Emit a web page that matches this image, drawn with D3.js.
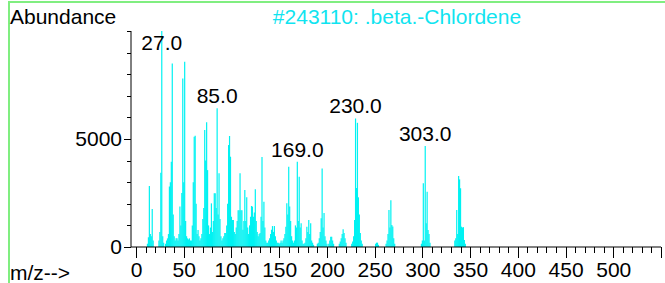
<!DOCTYPE html>
<html>
<head>
<meta charset="utf-8">
<script src="https://cdn.jsdelivr.net/npm/d3@7"></script>
<style>
  html, body { margin: 0; padding: 0; background: #fff; }
  svg { display: block; font-family: "Liberation Sans", Arial, sans-serif; }
  .axis path, .axis line { stroke: #000; shape-rendering: crispEdges; }
  .axis text { font-size: 21px; fill: #000; }
</style>
</head>
<body>
<svg id="chart" width="665" height="283"></svg>
<script>
// m/z values and abundances
const mz = [
  12, 13, 14, 15, 16, 17, 18, 24, 25, 26, 27, 28, 29, 31, 32, 33, 34, 35, 36, 37,
  38, 39, 40, 41, 42, 43, 44, 45, 46, 47, 48, 49, 50, 51, 52, 53, 54, 55, 56, 57,
  58, 59, 60, 61, 62, 63, 64, 65, 66, 67, 68, 69, 70, 71, 72, 73, 74, 75, 76, 77,
  78, 79, 80, 81, 82, 83, 84, 85, 86, 87, 88, 89, 90, 91, 92, 93, 94, 95, 96, 97,
  98, 99, 100, 101, 102, 103, 104, 105, 106, 107, 108, 109, 110, 111, 112, 113, 114, 115, 116, 117,
  118, 119, 120, 121, 122, 123, 124, 125, 126, 127, 128, 129, 130, 131, 132, 133, 134, 135, 136, 137,
  138, 139, 140, 141, 142, 143, 144, 145, 146, 147, 148, 149, 150, 151, 152, 153, 154, 155, 156, 157,
  158, 159, 160, 161, 162, 163, 164, 165, 166, 167, 168, 169, 170, 171, 172, 173, 174, 175, 176, 177,
  178, 179, 180, 181, 182, 183, 184, 185, 186, 190, 191, 192, 193, 194, 195, 196, 197, 198, 199, 200,
  202, 203, 204, 205, 206, 207, 213, 214, 215, 216, 217, 218, 219, 220, 226, 227, 228, 229, 230, 231,
  232, 233, 234, 235, 236, 237, 251, 252, 253, 254, 262, 263, 264, 265, 266, 267, 268, 269, 270, 271,
  299, 300, 301, 302, 303, 304, 305, 306, 307, 308, 334, 335, 336, 337, 338, 339, 340, 341, 342, 343,
  344, 345
];
const abundance = [
  150, 450, 2820, 600, 500, 1760, 300, 300, 700, 3440, 10000, 500, 200, 150, 300, 400, 600, 2800, 3000, 3950,
  8500, 1500, 500, 300, 400, 400, 300, 600, 1870, 1000, 2500, 7800, 3000, 8580, 1200, 500, 400, 350, 400, 300,
  300, 1000, 3000, 5100, 5150, 2000, 600, 790, 500, 300, 400, 600, 1300, 1800, 5420, 4000, 5770, 3560, 1000, 600,
  900, 2020, 700, 1200, 2490, 2490, 1800, 6420, 1500, 3410, 1300, 500, 300, 400, 500, 650, 650, 1000, 2000, 4720,
  5140, 4180, 1400, 1250, 1250, 700, 600, 900, 1200, 1700, 1700, 3410, 1700, 1700, 800, 1200, 2640, 1200, 2300, 900,
  600, 1000, 1400, 1900, 1870, 1400, 1600, 2670, 1200, 700, 500, 600, 650, 1400, 4170, 1200, 2100, 900, 300, 200,
  200, 300, 400, 600, 800, 970, 700, 970, 500, 300, 200, 200, 150, 200, 300, 200, 300, 400, 600, 940,
  2030, 1500, 3720, 1870, 1200, 500, 300, 200, 300, 1000, 900, 3950, 1200, 3250, 900, 1100, 300, 150, 150, 200,
  400, 940, 700, 1250, 600, 1100, 300, 200, 100, 150, 200, 400, 700, 1330, 3640, 900, 1570, 500, 300, 150,
  150, 300, 480, 480, 300, 150, 150, 250, 400, 600, 820, 650, 400, 200, 150, 250, 500, 1250, 5950, 2730,
  5750, 2300, 1500, 650, 300, 150, 150, 200, 200, 100, 150, 300, 600, 1710, 900, 2170, 1020, 950, 400, 150,
  150, 300, 2950, 300, 4680, 1100, 2560, 790, 600, 200, 300, 400, 1710, 600, 3290, 3130, 2720, 940, 900, 920,
  320, 150
];

const labelMz = [27, 85, 169, 230, 303];
const xMajorTicks = [0, 50, 100, 150, 200, 250, 300, 350, 400, 450, 500, 550];
const xMinorTicks = d3.range(0, 551, 10);
const yMajorTicks = [0, 5000];
const yMinorTicks = [0, 1000, 2000, 3000, 4000, 5000, 6000, 7000, 8000, 9000, 10000];

const svg = d3.select("#chart");

// рамка
svg.append("rect")
  .attr("x", 9).attr("y", 2)
  .attr("width", 700).attr("height", 320)
  .attr("fill", "none")
  .attr("stroke", "#80ee80")
  .attr("stroke-width", 2);

const x = d3.scaleLinear().domain([0, 550]).range([136, 661]);
const y = d3.scaleLinear().domain([0, 10000]).range([247, 31]);

const data = mz.map((m, i) => ({ mz: m, v: abundance[i] }));

// spectrum lines
svg.append("g")
  .selectAll("line")
  .data(data)
  .join("line")
  .attr("x1", d => x(d.mz))
  .attr("x2", d => x(d.mz))
  .attr("y1", y(0))
  .attr("y2", d => y(d.v))
  .attr("stroke", "#00f2f2")
  .attr("stroke-width", 1.2);

// axes
svg.append("g")
  .attr("class", "axis")
  .attr("transform", `translate(0,${y(0)})`)
  .call(d3.axisBottom(x).tickValues(xMinorTicks).tickSize(6).tickFormat(""))
  .call(g => g.select(".domain").remove());

svg.append("g")
  .attr("class", "axis")
  .attr("transform", `translate(0,${y(0)})`)
  .call(d3.axisBottom(x).tickValues(xMajorTicks).tickSize(11).tickPadding(4)
    .tickFormat(d => d === 550 ? "" : d))
  .call(g => g.select(".domain").remove());

svg.append("line")
  .attr("x1", 131).attr("x2", x(550))
  .attr("y1", y(0)).attr("y2", y(0))
  .attr("stroke", "#000");

const yAxisX = 131;
svg.append("g")
  .attr("class", "axis")
  .attr("transform", `translate(${yAxisX},0)`)
  .call(d3.axisLeft(y).tickValues(yMinorTicks).tickSize(4).tickFormat(""))
  .call(g => g.select(".domain").remove());

svg.append("g")
  .attr("class", "axis")
  .attr("transform", `translate(${yAxisX},0)`)
  .call(d3.axisLeft(y).tickValues(yMajorTicks).tickSize(7).tickPadding(2)
    .tickFormat(d3.format("d")))
  .call(g => g.select(".domain").remove());

svg.append("line")
  .attr("x1", yAxisX).attr("x2", yAxisX)
  .attr("y1", y(10000)).attr("y2", y(0))
  .attr("stroke", "#000");

// peak labels
svg.append("g")
  .selectAll("text")
  .data(labelMz)
  .join("text")
  .attr("x", m => x(m))
  .attr("y", m => {
    const d = data.find(p => p.mz === m);
    return Math.max(y(d.v) - 5, 50);
  })
  .attr("text-anchor", "middle")
  .attr("font-size", 21)
  .text(m => m.toFixed(1));

// texts
svg.append("text")
  .attr("x", 10).attr("y", 24)
  .attr("font-size", 21)
  .text("Abundance");

svg.append("text")
  .attr("x", 397).attr("y", 24)
  .attr("text-anchor", "middle")
  .attr("font-size", 21)
  .attr("fill", "#10e4f0")
  .text("#243110: .beta.-Chlordene");

svg.append("text")
  .attr("x", 10).attr("y", 280)
  .attr("font-size", 21)
  .text("m/z-->");
</script>
</body>
</html>
